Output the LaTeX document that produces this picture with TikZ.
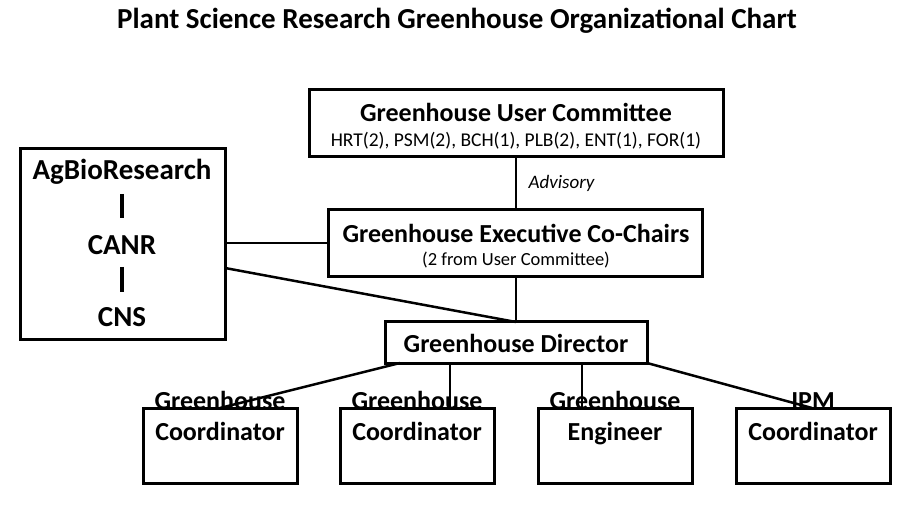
\documentclass[tikz,border=0pt]{standalone}
\usepackage{fontspec}
\setmainfont{Carlito}
\begin{document}
\begin{tikzpicture}[x=1pt,y=-1pt,
 box/.style={draw,line width=3pt,inner sep=0pt},
 ln/.style={line width=2.5pt},
 bt/.style={font=\fontsize{26}{28}\selectfont\bfseries,align=center}]
\useasboundingbox (0,0) rectangle (915,510);
\node[bt,font=\fontsize{29}{31}\selectfont\bfseries] (title) at (457,21) {Plant Science Research Greenhouse Organizational Chart};
\draw[box] (309,90) rectangle (723,157);
\node[bt] (uc) at (516,112) {Greenhouse User Committee};
\node[font=\fontsize{19.5}{21}\selectfont] (ucs) at (516,141) {HRT(2), PSM(2), BCH(1), PLB(2), ENT(1), FOR(1)};
\draw[box] (328,210) rectangle (702,277);
\node[bt] (ex) at (516,233) {Greenhouse Executive Co-Chairs};
\node[font=\fontsize{18.5}{20}\selectfont] (exs) at (516,260) {(2 from User Committee)};
\draw[box] (20,149) rectangle (225,340);
\node[bt,font=\fontsize{29}{31}\selectfont\bfseries] (ag) at (122,172) {AgBioResearch};
\node[bt,font=\fontsize{29}{31}\selectfont\bfseries] (canr) at (122,245) {CANR};
\node[bt,font=\fontsize{29}{31}\selectfont\bfseries] (cns) at (122,317) {CNS};
\draw[line width=4pt] (122,194) -- (122,218) (122,267) -- (122,292);
\draw[box] (385,322) rectangle (647,363);
\node[bt] (dir) at (516,343) {Greenhouse Director};
\foreach \n/\x/\a/\b in {c1/220/Greenhouse/Coordinator,c2/417/Greenhouse/Coordinator,e/615/Greenhouse/Engineer,i/813/IPM/Coordinator}{
 \draw[box] (\x-77,408) rectangle (\x+77,483);
 \node[bt,font=\fontsize{26}{30}\selectfont\bfseries,anchor=base] (\n) at (\x,440) {\a\\[1pt]\b};
}
\draw[ln] (516,157) -- node[right=8pt,font=\fontsize{19}{21}\selectfont\itshape]{Advisory} (516,210);
\draw[ln] (516,277) -- (516,322);
\draw[ln] (225,243) -- (328,243);
\draw[ln] (225,268) -- (516,322);
\draw[ln] (220,408) -- (400,363);
\draw[ln] (450,363) -- (450,408);
\draw[ln] (582,363) -- (582,408);
\draw[ln] (647,363) -- (812,408);
\end{tikzpicture}
\end{document}
